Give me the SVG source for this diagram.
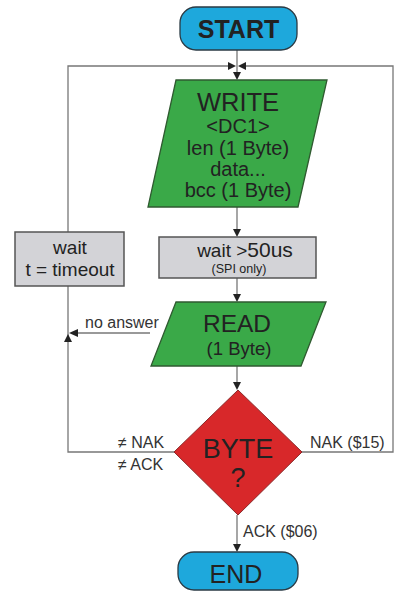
<svg xmlns="http://www.w3.org/2000/svg" width="398" height="599" viewBox="0 0 398 599">
<style>
.ln{fill:none;stroke:#777;stroke-width:1.3}
.ah{fill:#222}
.t{font-family:"Liberation Sans",Arial,sans-serif;text-anchor:middle;fill:#222}
.lb{font-family:"Liberation Sans",Arial,sans-serif;fill:#333;font-size:16px}
.term{fill:#1ea8dc;stroke:#2a3a44;stroke-width:1.3}
.io{fill:#3aa948;stroke:#2f5a30;stroke-width:1.3}
.proc{fill:#d3d3d7;stroke:#555;stroke-width:1.5}
.dec{fill:#d8282a;stroke:#8a2a2a;stroke-width:1}
</style>
<rect width="398" height="599" fill="#fff"/>
<g id="connectors">
<path class="ln" d="M237 50V78"/>
<path class="ln" d="M174 452H68V66H233"/>
<path class="ln" d="M302 452H393V66H241"/>
<path class="ln" d="M237 207V235"/>
<path class="ln" d="M237 278V300"/>
<path class="ln" d="M237 366V388"/>
<path class="ln" d="M237 515V550"/>
<path class="ln" d="M150 333H72"/>
<polygon class="ah" points="237,80 233,72 241,72"/>
<polygon class="ah" points="236,66 228,62 228,70"/>
<polygon class="ah" points="238,66 246,62 246,70"/>
<polygon class="ah" points="237,237 233,229 241,229"/>
<polygon class="ah" points="237,302 233,294 241,294"/>
<polygon class="ah" points="237,390 233,382 241,382"/>
<polygon class="ah" points="237,552 233,544 241,544"/>
<polygon class="ah" points="69,333 78,329 78,337"/>
<polygon class="ah" points="68,334 64,342 72,342"/>
</g>
<g id="start">
<rect class="term" x="180" y="7" width="117" height="43" rx="16"/>
<text class="t" x="238.5" y="38" font-size="25" font-weight="bold">START</text>
</g>
<g id="write">
<polygon class="io" points="176,80 327,80 298,207 148,207"/>
<text class="t" x="238" y="111" font-size="25.5">WRITE</text>
<text class="t" x="238" y="133" font-size="20">&lt;DC1&gt;</text>
<text class="t" x="238" y="155" font-size="20">len (1 Byte)</text>
<text class="t" x="238" y="176" font-size="20">data...</text>
<text class="t" x="238" y="197" font-size="20">bcc (1 Byte)</text>
</g>
<g id="wait50">
<rect class="proc" x="159" y="237" width="157" height="41"/>
<text class="t" x="245" y="257" font-size="19">wait &gt;<tspan font-size="21">50us</tspan></text>
<text class="t" x="239" y="273" font-size="12.5" fill="#333">(SPI only)</text>
</g>
<g id="timeout">
<rect class="proc" x="15" y="232" width="109" height="54"/>
<text class="t" x="70" y="254" font-size="19" fill="#333">wait</text>
<text class="t" x="70" y="276" font-size="19" fill="#333">t = timeout</text>
</g>
<g id="read">
<polygon class="io" points="176,302 326,302 301,366 151,366"/>
<text class="t" x="237" y="332" font-size="24.5">READ</text>
<text class="t" x="239" y="355" font-size="18.5">(1 Byte)</text>
</g>
<g id="byte">
<polygon class="dec" points="238,390 302,452 238,515 174,452"/>
<text class="t" x="238" y="458" font-size="27">BYTE</text>
<text class="t" x="238" y="487" font-size="27">?</text>
</g>
<g id="end">
<rect class="term" x="178" y="552" width="120" height="38" rx="16"/>
<text class="t" x="236" y="583" font-size="25">END</text>
</g>
<g id="labels">
<text class="lb" x="85" y="328" font-size="12.5">no answer</text>
<text class="lb" x="118" y="448">≠ NAK</text>
<text class="lb" x="118" y="470">≠ ACK</text>
<text class="lb" x="310" y="448">NAK ($15)</text>
<text class="lb" x="243" y="537">ACK ($06)</text>
</g>
</svg>
